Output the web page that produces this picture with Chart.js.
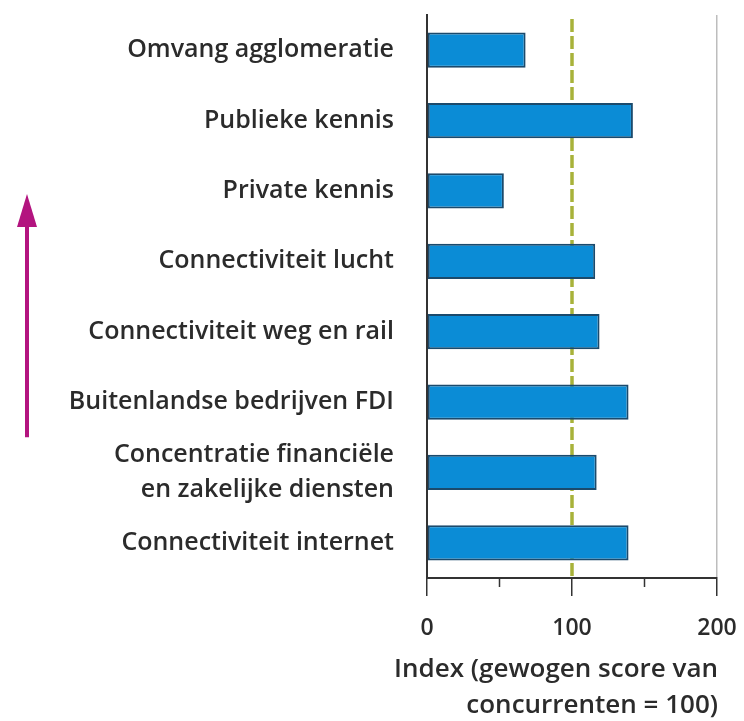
<!DOCTYPE html>
<html>
<head>
<meta charset="utf-8">
<script src="https://cdn.jsdelivr.net/npm/chart.js@4.4.1/dist/chart.umd.min.js"></script>
<style>
  html, body { margin: 0; padding: 0; background: #fff; }
  #wrap { width: 744px; height: 721px; }
</style>
</head>
<body>
<div id="wrap"><canvas id="chart" width="744" height="721"></canvas></div>
<script>
const categories = [
  "Omvang agglomeratie",
  "Publieke kennis",
  "Private kennis",
  "Connectiviteit lucht",
  "Connectiviteit weg en rail",
  "Buitenlandse bedrijven FDI",
  ["Concentratie financiële", "en zakelijke diensten"],
  "Connectiviteit internet"
];
const scores = [68, 142, 53, 116, 119, 139, 117, 139];
const referenceValue = 100;
const majorTicks = [0, 100, 200];
const minorTicks = [50, 150];
const axisTitle = ["Index (gewogen score van", "concurrenten = 100)"];

const FONT = "'Open Sans', 'DejaVu Sans', sans-serif";
const TEXT = "#2b2b2b";

// dashed reference line at 100, behind the bars
const referenceLine = {
  id: "referenceLine",
  beforeDatasetsDraw(chart) {
    const { ctx, chartArea, scales } = chart;
    const x = scales.x.getPixelForValue(referenceValue);
    ctx.save();
    ctx.strokeStyle = "#a8b23a";
    ctx.lineWidth = 3.5;
    ctx.setLineDash([13, 4]);
    ctx.beginPath();
    ctx.moveTo(x, chartArea.top + 4);
    ctx.lineTo(x, chartArea.bottom);
    ctx.stroke();
    ctx.restore();
  }
};

// minor ticks, axis title (right aligned, wider than the plot) and the arrow
const extras = {
  id: "extras",
  afterDraw(chart) {
    const { ctx, chartArea, scales } = chart;
    ctx.save();
    ctx.strokeStyle = "#333";
    ctx.lineWidth = 1.5;
    minorTicks.forEach((v) => {
      const x = scales.x.getPixelForValue(v);
      ctx.beginPath();
      ctx.moveTo(x, chartArea.bottom);
      ctx.lineTo(x, chartArea.bottom + 9);
      ctx.stroke();
    });

    ctx.fillStyle = TEXT;
    ctx.font = "600 26px " + FONT;
    ctx.textAlign = "right";
    ctx.textBaseline = "middle";
    const lastY = chart.height - 15;
    axisTitle.forEach((line, i) => {
      ctx.fillText(line, chartArea.right + 1, lastY - (axisTitle.length - 1 - i) * 36);
    });

    const ax = 27;
    const tip = scales.y.getPixelForValue(2) + 3;
    const end = (scales.y.getPixelForValue(5) + scales.y.getPixelForValue(6)) / 2;
    ctx.strokeStyle = "#b3147f";
    ctx.fillStyle = "#b3147f";
    ctx.lineWidth = 4;
    ctx.beginPath();
    ctx.moveTo(ax, end);
    ctx.lineTo(ax, tip + 20);
    ctx.stroke();
    ctx.beginPath();
    ctx.moveTo(ax, tip);
    ctx.lineTo(ax - 10, tip + 33);
    ctx.lineTo(ax + 10, tip + 33);
    ctx.closePath();
    ctx.fill();
    ctx.restore();
  }
};

new Chart(document.getElementById("chart"), {
  type: "bar",
  data: {
    labels: categories,
    datasets: [{
      data: scores,
      backgroundColor: "#0b8cd6",
      borderColor: "#1b4a6c",
      borderWidth: 2,
      borderSkipped: false,
      categoryPercentage: 1,
      barPercentage: 0.5
    }]
  },
  options: {
    indexAxis: "y",
    responsive: false,
    animation: false,
    layout: { padding: { top: 15, right: 27, bottom: 0, left: 0 } },
    plugins: { legend: { display: false }, tooltip: { enabled: false } },
    scales: {
      x: {
        min: 0,
        max: 200,
        afterFit: (s) => { s.height = 143; s.paddingLeft = 0; s.paddingRight = 0; },
        afterBuildTicks: (s) => { s.ticks = majorTicks.map((v) => ({ value: v })); },
        border: { display: true, color: "#333", width: 2 },
        grid: {
          drawOnChartArea: true,
          color: (c) => (c.tick && c.tick.value === 200 ? "#bdbdbd" : "rgba(0,0,0,0)"),
          lineWidth: 1.5,
          tickColor: "#333",
          tickLength: 18,
          tickWidth: 1.5
        },
        ticks: {
          color: TEXT,
          padding: 19,
          maxRotation: 0,
          font: { family: FONT, size: 23, weight: "600" }
        },
        title: { display: false }
      },
      y: {
        afterFit: (s) => { s.width = 427; s.paddingTop = 0; s.paddingBottom = 0; },
        border: { display: true, color: "#333", width: 2 },
        grid: { display: false, drawTicks: false },
        ticks: {
          color: TEXT,
          padding: 33,
          autoSkip: false,
          font: { family: FONT, size: 25, weight: "600", lineHeight: 1.4 }
        }
      }
    }
  },
  plugins: [referenceLine, extras]
});
</script>
</body>
</html>
